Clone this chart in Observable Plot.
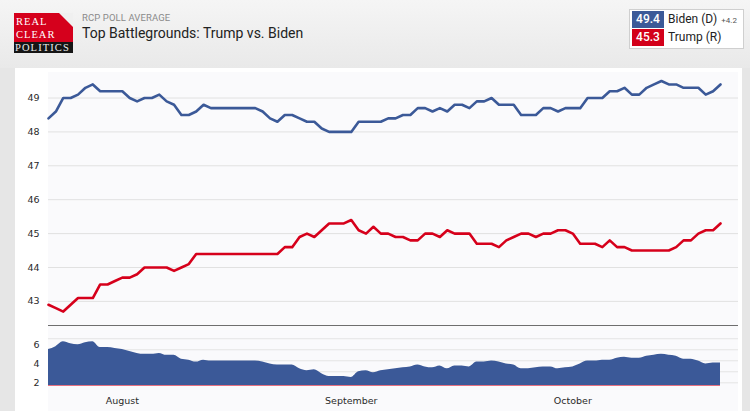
<!DOCTYPE html>
<html>
<head>
<meta charset="utf-8">
<script src="https://cdn.jsdelivr.net/npm/d3@7"></script>
<script src="https://cdn.jsdelivr.net/npm/@observablehq/plot@0.6"></script>
<style>
  html, body { margin: 0; padding: 0; }
  body { width: 750px; height: 411px; overflow: hidden; position: relative; background: #e6e6e6; font-family: Roboto, "Noto Sans", sans-serif; }
  #header { position: absolute; left: 0; top: 0; width: 750px; height: 68px; background: linear-gradient(#f5f5f5, #e9e9e9); }
  #panel { position: absolute; left: 15px; top: 68px; width: 727px; height: 343px; background: #ffffff; }
  #plotbg { position: absolute; left: 48px; top: 72px; width: 690px; height: 339px; background: #fafafc; }
  #main { position: absolute; left: 0; top: 68px; }
  #spread { position: absolute; left: 0; top: 326px; }
  #logo { position: absolute; left: 14px; top: 13px; width: 59px; height: 40px; overflow: hidden; }
  #logo .red { position: absolute; left: 0; top: 0; width: 59px; height: 29px; background: #d5001c; }
  #logo .blk { position: absolute; left: 0; top: 29px; width: 59px; height: 11px; background: #151515; }
  #logo .t { position: absolute; left: 2px; color: #fff; font-family: "Liberation Serif", "DejaVu Serif", serif; font-size: 10.5px; line-height: 11px; height: 11px; letter-spacing: 1px; }
  #logo .fold2 { position: absolute; right: 0; top: 0; width: 0; height: 0; border-right: 7px solid #f0f0f0; border-top: 7px solid #f0f0f0; border-left: 7px solid transparent; border-bottom: 7px solid transparent; box-sizing: border-box; }
  #kicker { position: absolute; left: 82px; top: 12px; font-size: 9.5px; color: #8a8a8a; letter-spacing: 0.1px; }
  #title { position: absolute; left: 82px; top: 25px; font-size: 14px; color: #222; }
  #legend { position: absolute; left: 629px; top: 9px; width: 113px; height: 38px; border: 1px solid #cfcfcf; background: #fff; }
  #legend .cell { position: absolute; left: 2px; width: 32px; height: 17px; color: #fff; font-size: 12px; font-weight: 500; line-height: 17px; text-align: center; }
  #legend .name { position: absolute; left: 38px; font-size: 12px; color: #222; line-height: 17px; }
  #legend .chg { font-size: 8px; color: #555; margin-left: 4px; }
</style>
</head>
<body>
<div id="header"></div>
<div id="panel"></div>
<div id="plotbg"></div>

<div id="logo">
  <div class="red"></div>
  <div class="blk"></div>
  <div class="t" style="top:3px;">REAL</div>
  <div class="t" style="top:15.5px;">CLEAR</div>
  <div class="t" style="top:28.5px;left:1px;letter-spacing:1.1px;color:#eee;">POLITICS</div>
  <div class="fold2"></div>
</div>
<div id="kicker">RCP POLL AVERAGE</div>
<div id="title">Top Battlegrounds: Trump vs. Biden</div>

<div id="legend">
  <div class="cell" id="bcell" style="top:1px;background:#3b5998;"></div>
  <div class="name" id="bname" style="top:1px;"></div>
  <div class="cell" id="tcell" style="top:19px;background:#d3001a;"></div>
  <div class="name" id="tname" style="top:19px;"></div>
</div>

<div id="main"></div>
<div id="spread"></div>

<script>
// ---- data (daily RCP averages, Jul 22 – Oct 21, 2020) ----
const startDay = "2020-07-22";
const biden = [
  48.4, 48.6, 49.0, 49.0, 49.1, 49.3, 49.4, 49.2, 49.2, 49.2,
  49.2, 49.0, 48.9, 49.0, 49.0, 49.1, 48.9, 48.8, 48.5, 48.5,
  48.6, 48.8, 48.7, 48.7, 48.7, 48.7, 48.7, 48.7, 48.7, 48.6,
  48.4, 48.3, 48.5, 48.5, 48.4, 48.3, 48.3, 48.1, 48.0, 48.0,
  48.0, 48.0, 48.3, 48.3, 48.3, 48.3, 48.4, 48.4, 48.5, 48.5,
  48.7, 48.7, 48.6, 48.7, 48.6, 48.8, 48.8, 48.7, 48.9, 48.9,
  49.0, 48.8, 48.8, 48.8, 48.5, 48.5, 48.5, 48.7, 48.7, 48.6,
  48.7, 48.7, 48.7, 49.0, 49.0, 49.0, 49.2, 49.2, 49.3, 49.1,
  49.1, 49.3, 49.4, 49.5, 49.4, 49.4, 49.3, 49.3, 49.3, 49.1,
  49.2, 49.4
];
const trump = [
  42.9, 42.8, 42.7, 42.9, 43.1, 43.1, 43.1, 43.5, 43.5, 43.6,
  43.7, 43.7, 43.8, 44.0, 44.0, 44.0, 44.0, 43.9, 44.0, 44.1,
  44.4, 44.4, 44.4, 44.4, 44.4, 44.4, 44.4, 44.4, 44.4, 44.4,
  44.4, 44.4, 44.6, 44.6, 44.9, 45.0, 44.9, 45.1, 45.3, 45.3,
  45.3, 45.4, 45.1, 45.0, 45.2, 45.0, 45.0, 44.9, 44.9, 44.8,
  44.8, 45.0, 45.0, 44.9, 45.1, 45.0, 45.0, 45.0, 44.7, 44.7,
  44.7, 44.6, 44.8, 44.9, 45.0, 45.0, 44.9, 45.0, 45.0, 45.1,
  45.1, 45.0, 44.7, 44.7, 44.7, 44.6, 44.8, 44.6, 44.6, 44.5,
  44.5, 44.5, 44.5, 44.5, 44.5, 44.6, 44.8, 44.8, 45.0, 45.1,
  45.1, 45.3
];
const candidates = ["Biden (D)", "Trump (R)"];
const latest = [49.4, 45.3];
const leadLabel = "+4.2";
const mainTicks = [43, 44, 45, 46, 47, 48, 49];
const spreadTicks = [2, 4, 6];
const monthTicks = ["2020-08-01", "2020-09-01", "2020-10-01"];

// ---- styling ----
const BLUE = "#3b5998";
const RED = "#d6001b";

// ---- build table ----
const start = new Date(startDay + "T00:00:00Z");
const dates = biden.map((_, i) => d3.utcDay.offset(start, i));
const rows = dates.map((d, i) => ({
  date: d,
  biden: biden[i],
  trump: trump[i],
  spread: Math.round((biden[i] - trump[i]) * 10) / 10
}));

// legend
document.getElementById("bcell").textContent = latest[0].toFixed(1);
document.getElementById("tcell").textContent = latest[1].toFixed(1);
document.getElementById("bname").innerHTML = candidates[0] + '<span class="chg">' + leadLabel + '</span>';
document.getElementById("tname").textContent = candidates[1];

const xDomain = [dates[0], dates[dates.length - 1]];
const axisStyle = {
  background: "transparent",
  fontFamily: "'DejaVu Sans', Verdana, sans-serif",
  fontSize: "9.5px",
  color: "#2a2a2a",
  overflow: "visible"
};

// ---- main chart ----
const mainDomain = [42.289, 49.87];
const mainChart = Plot.plot({
  width: 750, height: 258,
  marginLeft: 48, marginRight: 30, marginTop: 0, marginBottom: 1,
  style: axisStyle,
  x: {type: "utc", domain: xDomain, axis: null},
  y: {domain: mainDomain, ticks: mainTicks, tickFormat: d3.format("d"), tickSize: 0, tickPadding: 9, label: null},
  marks: [
    Plot.ruleY(mainTicks, {stroke: "#e1e1e1", strokeWidth: 1, insetRight: -18}),
    Plot.ruleY([mainDomain[0]], {stroke: "#6e6e6e", strokeWidth: 1, insetRight: -18}),
    Plot.line(rows, {x: "date", y: "biden", stroke: BLUE, strokeWidth: 2.6}),
    Plot.line(rows, {x: "date", y: "trump", stroke: RED, strokeWidth: 2.6})
  ]
});
document.getElementById("main").appendChild(mainChart);

// ---- spread (navigator) chart ----
const spreadDomain = [1.772, 7.89];
const spreadGrid = d3.range(5).map(k => 2.05 + 1.143 * k);
const spreadChart = Plot.plot({
  width: 750, height: 85,
  marginLeft: 48, marginRight: 30, marginTop: 0, marginBottom: 26,
  style: axisStyle,
  x: {
    type: "utc", domain: xDomain,
    ticks: monthTicks.map(s => new Date(s + "T00:00:00Z")),
    tickFormat: d3.utcFormat("%B"),
    tickSize: 0, tickPadding: 12, label: null
  },
  y: {domain: spreadDomain, ticks: spreadTicks, tickFormat: d3.format("d"), tickSize: 0, tickPadding: 9, label: null},
  marks: [
    Plot.ruleY(spreadGrid, {stroke: "#e4e4e4", strokeWidth: 1, insetRight: -18}),
    Plot.areaY(rows, {x: "date", y1: spreadDomain[0], y2: "spread", fill: BLUE, curve: "monotone-x"}),
    Plot.ruleY([spreadDomain[0]], {x1: xDomain[0], x2: xDomain[1], stroke: RED, strokeOpacity: 0.55, strokeWidth: 1})
  ]
});
document.getElementById("spread").appendChild(spreadChart);
</script>
</body>
</html>
